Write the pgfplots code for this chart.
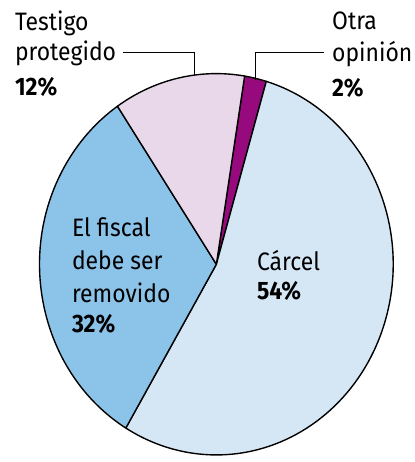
\documentclass[border=0pt]{standalone}
\usepackage{pgfplots}
\pgfplotsset{compat=1.18}
\usepackage{pgfplotstable}
\usepackage{fontspec}
\setmainfont{Fira Sans}[FakeStretch=0.91]
\definecolor{cCarcel}{HTML}{D5E6F5}
\definecolor{cFiscal}{HTML}{8CC3E8}
\definecolor{cTestigo}{HTML}{E8D8EA}
\definecolor{cOtra}{HTML}{960A7D}
\pgfplotstableread[col sep=comma]{
label,share
Otra opinion,2
Carcel,54
El fiscal debe ser removido,32
Testigo protegido,12
}\piedata
\begin{document}
\begin{tikzpicture}
\pgfplotstablegetelem{0}{share}\of\piedata\edef\sO{\pgfplotsretval}
\pgfplotstablegetelem{1}{share}\of\piedata\edef\sC{\pgfplotsretval}
\pgfplotstablegetelem{2}{share}\of\piedata\edef\sF{\pgfplotsretval}
\pgfplotstablegetelem{3}{share}\of\piedata\edef\sT{\pgfplotsretval}
\pgfmathsetmacro\tA{80.8}
\pgfmathsetmacro\tB{\tA-3.6*\sO}
\pgfmathsetmacro\tC{\tB-3.6*\sC}
\pgfmathsetmacro\tD{\tC-3.6*\sF}
\pgfmathsetmacro\tE{\tD-3.6*\sT}
\def\cx{219}\def\cy{194.5}\def\ra{179}\def\rb{193}
\begin{axis}[width=413bp,height=462bp,scale only axis,
  xmin=0,xmax=413,ymin=0,ymax=462,hide axis,clip=false]
\path (axis cs:0,0) rectangle (axis cs:413,462);
\filldraw[fill=cOtra,draw=black,line width=1.4bp,line join=round]
  (axis cs:\cx,\cy) -- (axis cs:{\cx+\ra*cos(\tA)},{\cy+\rb*sin(\tA)})
  arc[start angle=\tA,end angle=\tB,x radius=\ra bp,y radius=\rb bp] -- cycle;
\filldraw[fill=cCarcel,draw=black,line width=1.4bp,line join=round]
  (axis cs:\cx,\cy) -- (axis cs:{\cx+\ra*cos(\tB)},{\cy+\rb*sin(\tB)})
  arc[start angle=\tB,end angle=\tC,x radius=\ra bp,y radius=\rb bp] -- cycle;
\filldraw[fill=cFiscal,draw=black,line width=1.4bp,line join=round]
  (axis cs:\cx,\cy) -- (axis cs:{\cx+\ra*cos(\tC)},{\cy+\rb*sin(\tC)})
  arc[start angle=\tC,end angle=\tD,x radius=\ra bp,y radius=\rb bp] -- cycle;
\filldraw[fill=cTestigo,draw=black,line width=1.4bp,line join=round]
  (axis cs:\cx,\cy) -- (axis cs:{\cx+\ra*cos(\tD)},{\cy+\rb*sin(\tD)})
  arc[start angle=\tD,end angle=\tE,x radius=\ra bp,y radius=\rb bp] -- cycle;
% leader lines
\draw[line width=1bp] (axis cs:124,409) -- (axis cs:197,409) -- (axis cs:197,386);
\draw[line width=1bp] (axis cs:328,409) -- (axis cs:259,409) -- (axis cs:259,381);
% labels
\tikzset{lab/.style={anchor=base west,inner sep=0pt,font=\fontsize{25.6}{30}\selectfont}}
\node[lab] at (axis cs:15,431) {Testigo};
\node[lab] at (axis cs:15,400.5) {protegido};
\node[lab,font=\fontsize{25.6}{30}\selectfont\bfseries] at (axis cs:15,365.2) {\sT\%};
\node[lab] at (axis cs:336,432) {Otra};
\node[lab] at (axis cs:336,399.5) {opinión};
\node[lab,font=\fontsize{25.6}{30}\selectfont\bfseries] at (axis cs:336,364) {\sO\%};
\node[lab] at (axis cs:72.7,222.7) {El fiscal};
\node[lab] at (axis cs:72.7,189.3) {debe ser};
\node[lab] at (axis cs:72.7,156) {removido};
\node[lab,font=\fontsize{25.6}{30}\selectfont\bfseries] at (axis cs:72.7,125.3) {\sF\%};
\node[lab] at (axis cs:260,188) {Cárcel};
\node[lab,font=\fontsize{25.6}{30}\selectfont\bfseries] at (axis cs:260,159) {\sC\%};
\end{axis}
\end{tikzpicture}
\end{document}
